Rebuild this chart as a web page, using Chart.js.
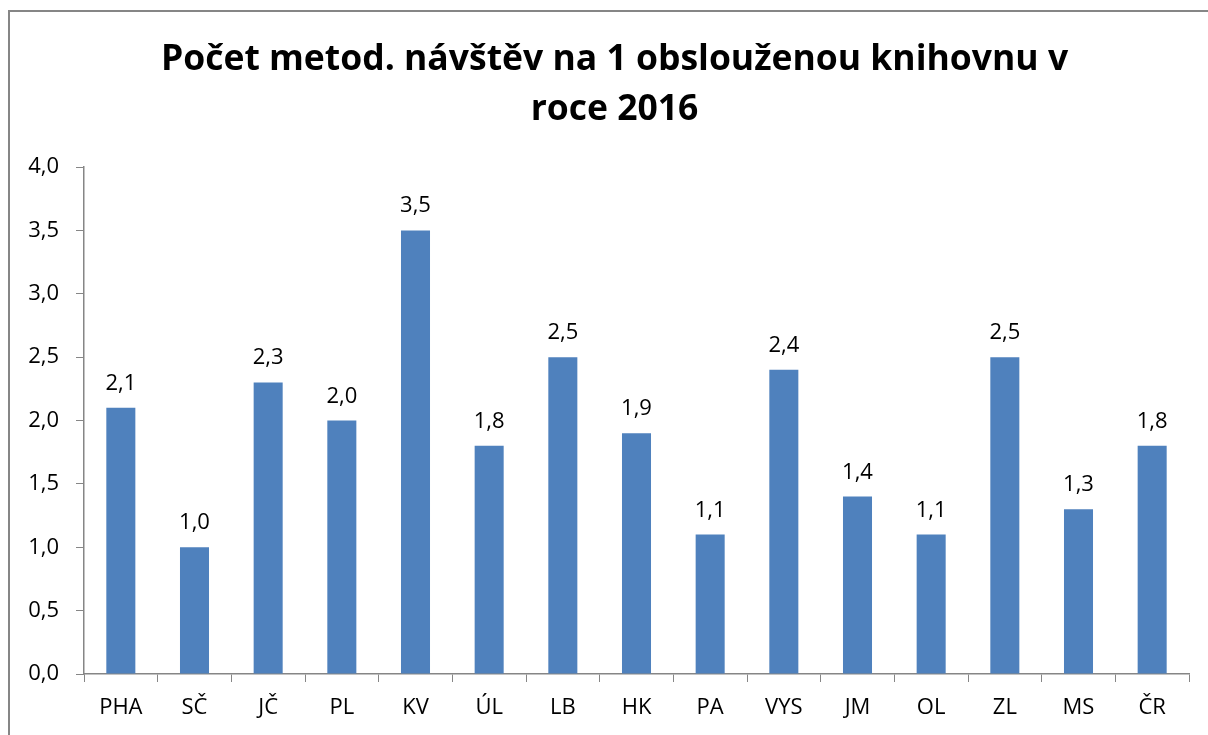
<!DOCTYPE html>
<html>
<head>
<meta charset="utf-8">
<script src="https://cdn.jsdelivr.net/npm/chart.js@4"></script>
<style>
  html, body { margin: 0; padding: 0; background: #fff; overflow: hidden; }
  #frame { position: absolute; left: 8px; top: 10px; width: 1400px; height: 900px; border: 2px solid #868686; box-sizing: border-box; }
  #c { position: absolute; left: 0; top: 0; }
</style>
</head>
<body>
<div id="frame"></div>
<canvas id="c" width="1208" height="735"></canvas>
<script>
const categories = ["PHA", "SČ", "JČ", "PL", "KV", "ÚL", "LB", "HK", "PA", "VYS", "JM", "OL", "ZL", "MS", "ČR"];
const values = [2.1, 1.0, 2.3, 2.0, 3.5, 1.8, 2.5, 1.9, 1.1, 2.4, 1.4, 1.1, 2.5, 1.3, 1.8];
const titleLines = ["Počet metod. návštěv na 1 obslouženou knihovnu v", "roce 2016"];
const yMin = 0, yMax = 4, yStep = 0.5;

const fmt = v => Number(v).toFixed(1).replace('.', ',');
const FONT = "'Open Sans', sans-serif";

const titlePlugin = {
  id: 'twoLineTitle',
  afterDraw(chart) {
    const ctx = chart.ctx;
    ctx.save();
    ctx.font = "bold 35.5px " + FONT;
    ctx.fillStyle = '#000';
    ctx.textAlign = 'center';
    ctx.textBaseline = 'alphabetic';
    const baselines = [70, 120];
    titleLines.forEach((t, i) => ctx.fillText(t, 614.5, baselines[i]));
    ctx.restore();
  }
};

const dataLabels = {
  id: 'dataLabels',
  afterDatasetsDraw(chart) {
    const ctx = chart.ctx;
    const meta = chart.getDatasetMeta(0);
    ctx.save();
    ctx.font = "22px " + FONT;
    ctx.fillStyle = '#000';
    ctx.textAlign = 'center';
    ctx.textBaseline = 'alphabetic';
    meta.data.forEach((bar, i) => {
      ctx.fillText(fmt(values[i]), bar.x, bar.y - 18);
    });
    ctx.restore();
  }
};

new Chart(document.getElementById('c'), {
  type: 'bar',
  data: {
    labels: categories,
    datasets: [{
      data: values,
      backgroundColor: '#4F81BD',
      borderWidth: 0,
      categoryPercentage: 1,
      barPercentage: 0.394
    }]
  },
  options: {
    responsive: false,
    animation: false,
    devicePixelRatio: 1,
    layout: { padding: { left: 0, right: 19, top: 167, bottom: 0 } },
    plugins: {
      legend: { display: false },
      tooltip: { enabled: false },
      title: { display: false }
    },
    scales: {
      x: {
        grid: { drawOnChartArea: false, drawTicks: true, tickLength: 8, color: '#868686', offset: true },
        border: { color: '#868686', width: 1.5 },
        ticks: { color: '#000', font: { family: FONT, size: 22 }, padding: 13, maxRotation: 0, autoSkip: false },
        afterFit(scale) { scale.height = 61; }
      },
      y: {
        min: yMin, max: yMax,
        grid: { drawOnChartArea: false, drawTicks: true, tickLength: 8, color: '#868686' },
        border: { color: '#868686', width: 1.5 },
        ticks: { stepSize: yStep, color: '#000', font: { family: FONT, size: 22 }, padding: 17, callback: v => fmt(v) },
        afterFit(scale) { scale.width = 84; }
      }
    }
  },
  plugins: [dataLabels, titlePlugin]
});
</script>
</body>
</html>
